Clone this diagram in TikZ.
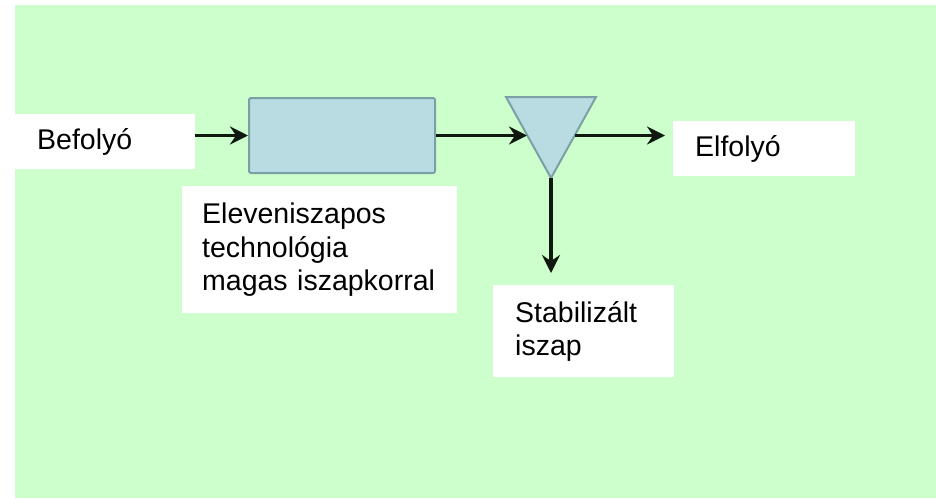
\documentclass[tikz,border=0pt]{standalone}
\usepackage{fontspec}
\setmainfont{Liberation Sans}
\usetikzlibrary{arrows.meta}

\definecolor{hatter}{RGB}{204,255,204}
\definecolor{medence}{RGB}{184,220,226}
\definecolor{perem}{RGB}{122,160,166}
\definecolor{nyil}{RGB}{16,24,16}

\tikzset{
  cimke/.style={fill=white, anchor=north west, inner xsep=22pt, inner ysep=0pt,
    align=left, font=\fontsize{28.5}{33.3}\selectfont},
  flow/.style={nyil, line width=3.5pt, -{Stealth[length=18pt,width=18pt,inset=6pt]}},
}

\begin{document}
\begin{tikzpicture}[x=10pt, y=-10pt]
  \useasboundingbox (0,0) rectangle (93.6,49.8);
  \fill[hatter] (1.5,0.5) rectangle (93.6,49.8);

  % labels
  \node[cimke, text width=136pt, minimum height=55pt] (befolyo) at (1.5,11.4) {Befolyó};
  \node[cimke, text width=138pt, minimum height=55pt] (elfolyo) at (67.3,12.1) {Elfolyó};
  \node[cimke, text width=137pt, minimum height=92pt] (iszap) at (49.3,28.5) {Stabilizált\\iszap};
  \node[cimke, inner xsep=20pt, text width=235pt, minimum height=127pt] (leiras) at (18.2,18.6)
    {Eleveniszapos\\technológia\\magas iszapkorral};

  % basin
  \node[draw=perem, fill=medence, line width=2pt, rounded corners=2pt, anchor=north west,
    minimum width=186pt, minimum height=75pt] (reactor) at (24.8,9.7) {};

  % settler
  \draw[fill=medence, draw=perem, line width=2pt] (50.6,9.7) -- (59.6,9.7) -- (55.1,17.8) -- cycle;
  \coordinate (be) at (52.7,13.45);
  \coordinate (ki) at (57.5,13.45);
  \coordinate (csucs) at (55.1,17.8);

  % flows
  \draw[flow] (befolyo.east |- reactor.west) -- (reactor.west);
  \draw[flow] (reactor.east) -- (reactor.east -| be);
  \draw[flow, shorten >=8pt] (reactor.east -| ki) -- (elfolyo.west |- reactor.east);
  \draw[flow, shorten >=12pt] (csucs) -- (iszap.north -| csucs);
\end{tikzpicture}
\end{document}
